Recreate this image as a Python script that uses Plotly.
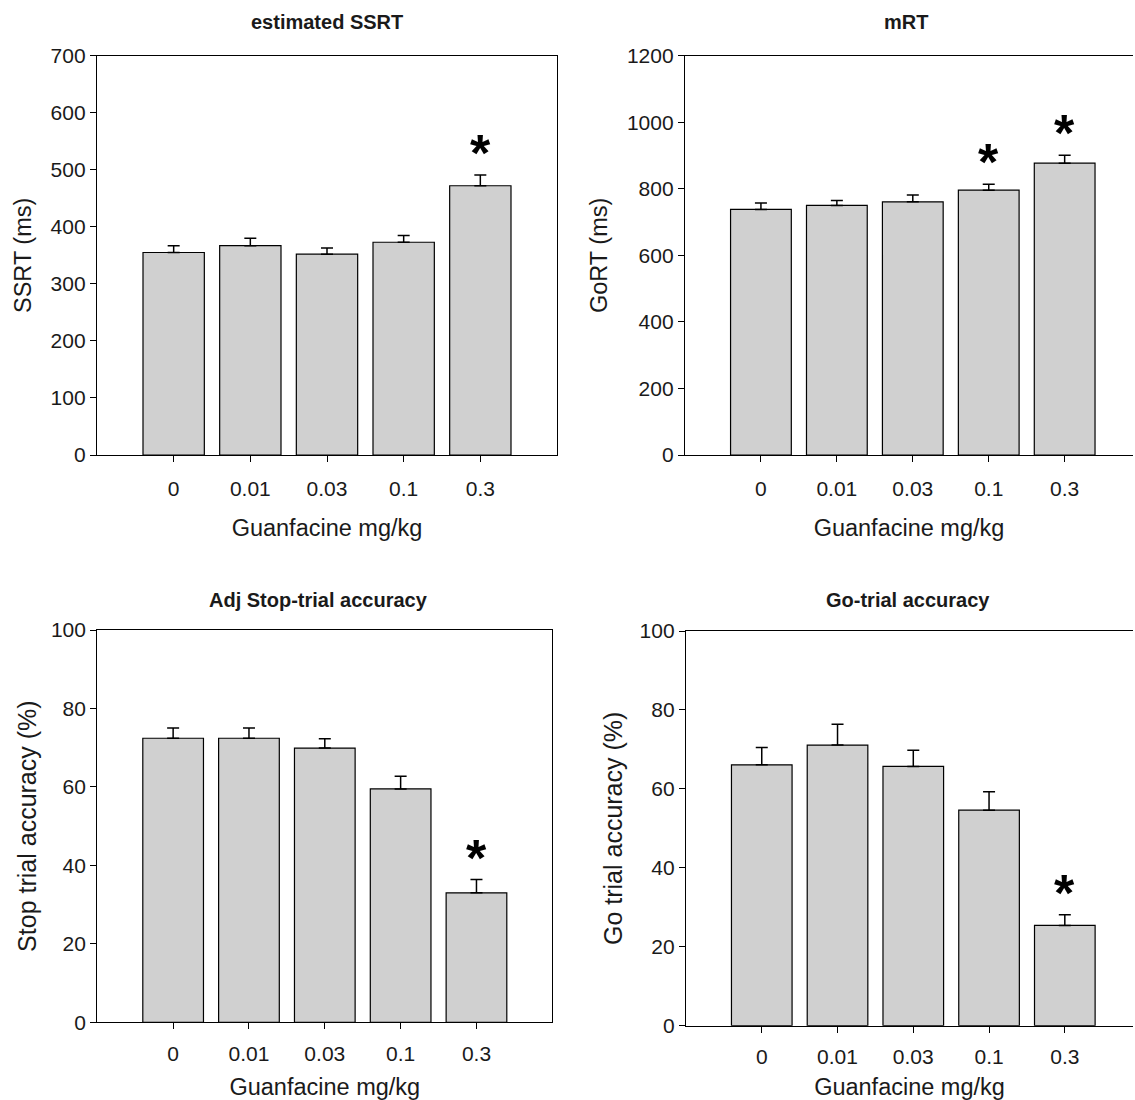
import plotly.graph_objects as go

doses = ["0", "0.01", "0.03", "0.1", "0.3"]

ssrt_mean = [355, 367, 352, 373, 472]
ssrt_sem = [12, 13, 11, 12, 19]
ssrt_sig = [False, False, False, False, True]

mrt_mean = [738, 750, 761, 796, 877]
mrt_sem = [19, 15, 20, 18, 24]
mrt_sig = [False, False, False, True, True]

stop_mean = [72.4, 72.4, 69.9, 59.5, 33.0]
stop_sem = [2.6, 2.6, 2.4, 3.2, 3.4]
stop_sig = [False, False, False, False, True]

go_mean = [66.1, 71.1, 65.7, 54.6, 25.4]
go_sem = [4.4, 5.3, 4.1, 4.7, 2.7]
go_sig = [False, False, False, False, True]

W, H = 1135, 1100
FONT = "Liberation Sans, Arial, sans-serif"

def px_x(a, b):
    return [a / W, b / W]

def px_y(top, bottom):
    return [1 - bottom / H, 1 - top / H]

panels = [
    dict(title="estimated SSRT", ytitle="SSRT (ms)", mean=ssrt_mean, sem=ssrt_sem, sig=ssrt_sig,
         xd=px_x(97, 557), yd=px_y(55.7, 455), yr=[0, 700], dt=100, xr=[-1, 5], mirror_y=True,
         tx=327, ty=22, ysz=23.5, yso=12, xlso=9),
    dict(title="mRT", ytitle="GoRT (ms)", mean=mrt_mean, sem=mrt_sem, sig=mrt_sig,
         xd=px_x(685, 1133), yd=px_y(55.7, 455), yr=[0, 1200], dt=200, xr=[-1, 4.9], mirror_y=False,
         tx=906, ty=22, ysz=23.5, yso=12, xlso=9),
    dict(title="Adj Stop-trial accuracy", ytitle="Stop trial accuracy (%)", mean=stop_mean, sem=stop_sem, sig=stop_sig,
         xd=px_x(97.3, 552.3), yd=px_y(630, 1022.3), yr=[0, 100], dt=20, xr=[-1, 5], mirror_y=True,
         tx=318, ty=600, ysz=25, yso=7, xlso=6),
    dict(title="Go-trial accuracy", ytitle="Go trial accuracy (%)", mean=go_mean, sem=go_sem, sig=go_sig,
         xd=px_x(686, 1133), yd=px_y(631, 1025.7), yr=[0, 100], dt=20, xr=[-1, 4.9], mirror_y=False,
         tx=908, ty=600, ysz=25, yso=9, xlso=6),
]

fig = go.Figure()
annotations = []
layout = {}
for i, p in enumerate(panels, start=1):
    xa = "x" if i == 1 else f"x{i}"
    ya = "y" if i == 1 else f"y{i}"
    fig.add_trace(go.Bar(
        x=doses, y=p["mean"], xaxis=xa, yaxis=ya, width=0.8,
        marker=dict(color="#d0d0d0", line=dict(color="black", width=1.2)),
        error_y=dict(type="data", array=p["sem"], arrayminus=[0] * len(doses), symmetric=False,
                     color="black", thickness=1.5, width=6),
        showlegend=False,
    ))
    xkey = "xaxis" if i == 1 else f"xaxis{i}"
    ykey = "yaxis" if i == 1 else f"yaxis{i}"
    layout[xkey] = dict(
        domain=p["xd"], anchor=ya, type="category", range=p["xr"], automargin=False,
        showline=True, linecolor="black", linewidth=1.3, mirror=True,
        ticks="outside", ticklen=6, tickcolor="black", showgrid=False, zeroline=False,
        ticklabelstandoff=p["xlso"],
        tickfont=dict(family=FONT, size=21, color="#1a1a1a"),
        title=dict(text="Guanfacine mg/kg", font=dict(family=FONT, size=23.5, color="#1a1a1a"), standoff=20),
    )
    layout[ykey] = dict(
        domain=p["yd"], anchor=xa, range=p["yr"], automargin=False,
        tickvals=list(range(p["yr"][0], p["yr"][1] + 1, p["dt"])),
        showline=True, linecolor="black", linewidth=1.3, mirror=p["mirror_y"],
        ticks="outside", ticklen=6, tickcolor="black", showgrid=False, zeroline=False,
        tickfont=dict(family=FONT, size=21, color="#1a1a1a"),
        title=dict(text=p["ytitle"], font=dict(family=FONT, size=p["ysz"], color="#1a1a1a"), standoff=p["yso"]),
    )
    annotations.append(dict(
        text=f"<b>{p['title']}</b>", xref="paper", yref="paper",
        x=p["tx"] / W, y=1 - p["ty"] / H, showarrow=False,
        xanchor="center", yanchor="middle",
        font=dict(family=FONT, size=20, color="#1a1a1a"),
    ))
    for idx, (m, s, sig) in enumerate(zip(p["mean"], p["sem"], p["sig"])):
        if sig:
            annotations.append(dict(
                text="<b>*</b>", x=idx, y=m + s, xref=xa, yref=ya, showarrow=False,
                yanchor="middle", yshift=22,
                font=dict(family=FONT, size=52, color="black"),
            ))

fig.update_layout(
    width=W, height=H, margin=dict(l=0, r=0, t=0, b=0, autoexpand=False),
    paper_bgcolor="white", plot_bgcolor="white",
    bargap=0.2, annotations=annotations, **layout,
)
fig.write_html("out.html", config={"displayModeBar": False},
               post_script="document.body.style.margin='0';document.body.style.padding='0';")
